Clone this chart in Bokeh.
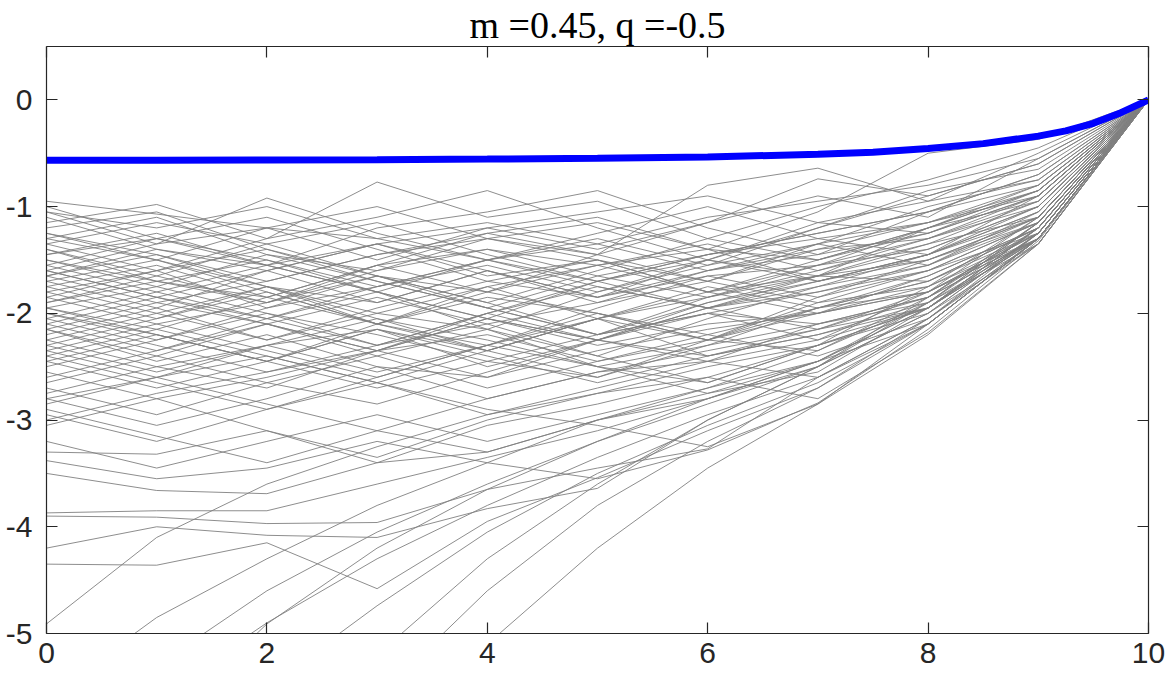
from bokeh.plotting import figure
from bokeh.models import ColumnDataSource, FixedTicker, LinearAxis, Range1d, Title
from bokeh.embed import file_html
from bokeh.resources import INLINE

title_text = "m =0.45, q =-0.5"
steps = [0, 1, 2, 3, 4, 5, 6, 7, 8, 9, 10]
x_ticks = [0, 2, 4, 6, 8, 10]
y_ticks = [-5, -4, -3, -2, -1, 0]

blue_x = [0, 1, 2, 3, 4, 5, 6, 7, 7.5, 8, 8.5, 9, 9.25, 9.5, 9.75, 10]
blue_y = [-0.565, -0.565, -0.563, -0.56, -0.555, -0.547, -0.535, -0.51, -0.49,
          -0.455, -0.41, -0.34, -0.29, -0.22, -0.12, 0.0]

upper_paths = [
    [-0.95, -1.07, -1.2, -1.3, -1.15, -1.35, -1.1, -0.95, -0.8, -0.55, 0],
    [-1.05, -1.35, -0.92, -1.25, -1.5, -1.3, -1.55, -1.2, -0.9, -0.6, 0],
    [-1.15, -0.98, -1.3, -0.77, -1.1, -0.95, -1.3, -1.0, -0.75, -0.45, 0],
    [-1.1, -1.4, -1.55, -1.2, -1.05, -0.85, -1.2, -1.45, -1.05, -0.7, 0],
    [-1.25, -1.5, -1.2, -1.0, -1.3, -1.45, -0.8, -0.64, -0.95, -0.5, 0],
    [-1.3, -1.1, -1.45, -1.6, -1.3, -1.15, -1.4, -1.05, -0.5, -0.37, 0],
    [-1.35, -1.6, -1.3, -1.1, -0.85, -1.2, -1.5, -1.65, -1.2, -0.8, 0],
    [-1.2, -1.05, -1.4, -1.65, -1.8, -1.45, -1.15, -0.74, -0.9, -0.6, 0],
    [-1.4, -1.65, -1.35, -1.15, -1.45, -1.7, -1.5, -1.2, -0.85, -0.65, 0],
    [-1.45, -1.25, -1.55, -1.8, -1.5, -1.25, -1.0, -1.3, -1.45, -0.9, 0],
    [-1.5, -1.7, -1.9, -1.55, -1.25, -1.45, -1.7, -1.35, -1.0, -0.75, 0],
    [-1.55, -1.3, -1.1, -1.4, -1.7, -1.85, -1.5, -1.15, -1.25, -0.85, 0],
    [-1.0, -1.3, -1.55, -1.35, -1.65, -1.5, -1.8, -1.55, -1.2, -0.95, 0],
    [-1.25, -1.45, -1.7, -1.45, -1.25, -1.1, -1.4, -1.7, -1.45, -1.0, 0],
    [-1.05, -1.2, -1.0, -1.3, -1.5, -1.7, -1.45, -1.25, -1.05, -0.7, 0],
    [-1.6, -1.35, -1.2, -1.5, -1.2, -1.4, -1.15, -0.9, -1.1, -0.55, 0],
    [-1.35, -1.15, -1.35, -1.65, -1.9, -1.6, -1.3, -1.5, -1.2, -0.85, 0],
    [-1.65, -1.4, -1.6, -1.35, -1.2, -1.05, -0.9, -1.15, -0.95, -0.75, 0],
    [-1.4, -1.7, -1.85, -1.55, -1.4, -1.65, -1.85, -1.6, -1.35, -0.95, 0],
    [-1.5, -1.75, -1.45, -1.7, -1.95, -1.65, -1.45, -1.25, -1.05, -0.8, 0],
    [-1.3, -1.5, -1.75, -1.9, -1.6, -1.85, -1.6, -1.4, -1.3, -0.9, 0],
    [-1.45, -1.3, -1.5, -1.75, -1.5, -1.35, -1.6, -1.35, -1.15, -0.8, 0],
]

core_paths = [
    [-1.6, -1.85, -2.05, -1.75, -1.5, -1.75, -1.95, -1.65, -1.35, -1.1, 0],
    [-1.65, -1.45, -1.75, -2.0, -2.15, -1.8, -1.55, -1.35, -1.55, -1.05, 0],
    [-1.7, -1.95, -1.6, -1.35, -1.6, -1.9, -1.6, -1.45, -1.25, -0.9, 0],
    [-1.75, -2.0, -2.25, -1.95, -1.7, -1.5, -1.8, -2.0, -1.65, -1.2, 0],
    [-1.85, -1.6, -1.4, -1.7, -1.95, -2.2, -1.85, -1.55, -1.4, -1.0, 0],
    [-1.8, -2.05, -1.75, -2.1, -2.3, -1.95, -1.65, -1.85, -1.6, -1.15, 0],
    [-1.9, -1.65, -1.9, -1.6, -1.4, -1.55, -1.8, -1.5, -1.2, -0.85, 0],
    [-1.95, -2.2, -2.45, -2.1, -1.85, -2.0, -2.25, -1.9, -1.6, -1.25, 0],
    [-1.9, -1.7, -1.5, -1.8, -2.05, -1.7, -1.45, -1.3, -1.15, -0.9, 0],
    [-2.0, -2.25, -1.95, -1.65, -1.9, -2.2, -1.9, -1.65, -1.7, -1.2, 0],
    [-2.05, -1.8, -2.05, -2.3, -2.0, -1.7, -1.95, -2.15, -1.8, -1.3, 0],
    [-2.1, -2.35, -2.05, -1.8, -2.15, -2.4, -2.05, -1.75, -1.45, -1.1, 0],
    [-2.1, -1.85, -1.6, -1.9, -1.6, -1.85, -1.65, -1.55, -1.3, -1.0, 0],
    [-2.15, -2.45, -2.2, -2.5, -2.6, -2.25, -2.45, -2.1, -1.85, -1.3, 0],
    [-2.2, -1.95, -2.25, -2.0, -1.75, -2.05, -1.75, -1.95, -1.65, -1.2, 0],
    [-2.25, -2.5, -2.7, -2.35, -2.05, -2.25, -1.95, -1.8, -1.6, -1.15, 0],
    [-2.3, -2.05, -1.8, -2.1, -2.35, -2.05, -2.25, -1.95, -1.7, -1.25, 0],
    [-2.35, -2.6, -2.3, -2.05, -2.35, -2.6, -2.25, -2.0, -1.75, -1.3, 0],
    [-2.4, -2.15, -2.4, -2.65, -2.35, -2.05, -2.4, -2.2, -1.9, -1.35, 0],
    [-2.45, -2.7, -2.45, -2.15, -2.5, -2.25, -2.0, -2.25, -1.95, -1.3, 0],
    [-2.5, -2.25, -2.0, -2.3, -2.1, -2.4, -2.65, -2.3, -2.0, -1.35, 0],
    [-2.55, -2.8, -2.6, -2.35, -2.6, -2.35, -2.15, -2.0, -1.8, -1.25, 0],
    [-1.55, -1.8, -1.55, -1.8, -2.05, -2.25, -1.9, -1.7, -1.45, -1.05, 0],
    [-1.7, -1.5, -1.8, -2.1, -1.8, -2.0, -2.25, -1.85, -1.5, -1.15, 0],
    [-1.85, -2.1, -2.35, -2.6, -2.3, -2.05, -1.8, -1.65, -1.4, -1.0, 0],
    [-1.95, -1.75, -2.0, -2.2, -2.45, -2.6, -2.3, -1.95, -1.7, -1.2, 0],
    [-2.05, -2.3, -2.55, -2.3, -2.0, -1.75, -1.95, -1.75, -1.55, -1.1, 0],
    [-2.15, -2.4, -2.1, -1.85, -2.1, -1.9, -1.7, -1.9, -1.75, -1.25, 0],
    [-2.3, -2.55, -2.3, -2.55, -2.3, -2.0, -2.2, -1.95, -1.8, -1.3, 0],
    [-2.4, -2.65, -2.9, -2.6, -2.3, -2.5, -2.3, -2.1, -1.9, -1.3, 0],
    [-2.6, -2.35, -2.1, -2.4, -2.7, -2.45, -2.2, -2.4, -2.05, -1.35, 0],
    [-2.65, -2.4, -2.65, -2.4, -2.15, -2.5, -2.75, -2.45, -2.1, -1.3, 0],
    [-2.7, -2.95, -2.65, -2.85, -2.55, -2.25, -2.4, -2.15, -1.95, -1.25, 0],
    [-1.75, -1.55, -1.85, -1.55, -1.8, -1.55, -1.35, -1.6, -1.3, -0.95, 0],
    [-1.6, -1.85, -2.1, -2.35, -2.0, -2.25, -1.95, -1.7, -1.5, -1.1, 0],
    [-2.35, -2.1, -1.9, -1.65, -1.95, -2.2, -2.0, -1.8, -1.55, -1.15, 0],
    [-1.65, -1.9, -1.7, -1.45, -1.3, -1.5, -1.7, -1.4, -1.15, -0.85, 0],
    [-1.8, -1.6, -1.95, -1.75, -1.55, -1.8, -1.5, -1.7, -1.45, -1.05, 0],
    [-1.95, -2.15, -1.85, -2.1, -1.75, -1.55, -1.4, -1.5, -1.25, -0.9, 0],
    [-2.0, -2.2, -2.45, -2.15, -2.35, -2.05, -1.85, -1.65, -1.5, -1.1, 0],
    [-2.15, -1.9, -2.1, -2.35, -2.05, -2.3, -2.1, -2.0, -1.8, -1.25, 0],
    [-2.25, -2.0, -1.75, -2.05, -2.25, -2.5, -2.65, -2.3, -1.95, -1.3, 0],
    [-2.45, -2.2, -2.45, -2.7, -2.45, -2.2, -2.0, -2.1, -1.85, -1.3, 0],
    [-2.75, -2.5, -2.3, -2.15, -2.4, -2.65, -2.4, -2.2, -1.95, -1.3, 0],
]

lower_paths = [
    [-2.8, -3.05, -2.8, -2.5, -2.8, -2.55, -2.35, -2.15, -1.85, -1.2, 0],
    [-2.85, -2.6, -2.85, -3.1, -2.8, -2.55, -2.45, -2.6, -2.1, -1.3, 0],
    [-2.95, -3.2, -2.9, -2.65, -2.95, -2.75, -2.5, -2.3, -1.95, -1.25, 0],
    [-3.05, -2.8, -3.1, -3.35, -3.0, -2.75, -2.6, -2.8, -2.18, -1.35, 0],
    [-3.2, -3.45, -3.2, -2.95, -3.2, -2.95, -2.7, -2.45, -1.9, -1.15, 0],
    [-3.3, -3.32, -3.1, -3.4, -3.3, -3.0, -2.8, -2.5, -2.0, -1.25, 0],
    [-3.38, -3.55, -3.45, -3.2, -3.4, -3.55, -3.28, -2.84, -2.15, -1.32, 0],
    [-3.5, -3.66, -3.69, -3.4, -3.05, -2.85, -2.6, -2.3, -1.75, -1.1, 0],
    [-3.87, -3.85, -3.85, -3.6, -3.35, -3.1, -2.8, -2.45, -1.95, -1.2, 0],
    [-3.9, -3.91, -3.97, -3.96, -3.65, -3.45, -3.27, -2.6, -2.05, -1.3, 0],
    [-4.2, -4.0, -4.08, -4.1, -3.83, -3.64, -3.0, -2.5, -1.85, -1.15, 0],
    [-4.35, -4.36, -4.15, -4.58, -3.95, -3.54, -3.1, -2.7, -2.05, -1.3, 0],
    [-4.91, -4.1, -3.6, -3.25, -2.95, -2.7, -2.45, -2.25, -1.8, -1.1, 0],
    [-2.9, -3.15, -3.4, -3.1, -3.3, -3.0, -2.75, -2.55, -1.95, -1.2, 0],
    [-2.8, -2.6, -2.4, -2.65, -2.9, -3.05, -3.25, -2.85, -2.1, -1.3, 0],
    [-3.0, -2.75, -2.55, -2.35, -2.2, -2.45, -2.25, -2.35, -1.9, -1.2, 0],
]

deep_paths = [
    [-5.6, -4.85, -4.3, -3.8, -3.4, -3.0, -2.7, -2.35, -1.85, -1.15, 0],
    [-6.2, -5.3, -4.6, -4.05, -3.6, -3.2, -2.85, -2.5, -2.0, -1.25, 0],
    [-7.0, -5.9, -4.91, -4.2, -3.65, -3.2, -2.8, -2.45, -1.95, -1.2, 0],
    [-7.8, -6.5, -5.5, -4.74, -4.05, -3.5, -3.05, -2.65, -2.1, -1.3, 0],
    [-8.5, -7.2, -6.1, -5.2, -4.3, -3.6, -3.0, -2.5, -1.9, -1.15, 0],
    [-9.5, -8.0, -6.7, -5.6, -4.6, -3.8, -3.2, -2.7, -2.1, -1.3, 0],
    [-6.5, -5.6, -4.9, -4.3, -3.8, -3.35, -2.95, -2.6, -2.05, -1.25, 0],
    [-10.5, -8.8, -7.3, -6.1, -5.1, -4.2, -3.45, -2.85, -2.2, -1.35, 0],
]

all_paths = upper_paths + core_paths + lower_paths + deep_paths
src = ColumnDataSource(dict(xs=[steps] * len(all_paths), ys=all_paths))

AX = "#262626"
FONT = "Liberation Sans"

p = figure(width=1169, height=684, output_backend="svg", toolbar_location=None,
           x_range=Range1d(0, 10), y_range=Range1d(-5, 0.5),
           x_axis_location=None, y_axis_location=None,
           min_border_left=46, min_border_right=21, min_border_top=46, min_border_bottom=51)
p.title = Title(text=title_text, align="center", text_font="Liberation Serif",
                text_font_size="38px", text_font_style="normal", text_color="black",
                standoff=2, offset=0)
p.grid.visible = False
p.outline_line_color = None
p.background_fill_color = "white"
p.border_fill_color = "white"

p.multi_line(xs="xs", ys="ys", source=src, line_color="#808080", line_width=0.9)
p.line(blue_x, blue_y, line_color="#0000ff", line_width=7)


def make_axis(ticks, show_labels):
    ax = LinearAxis(ticker=FixedTicker(ticks=ticks))
    ax.axis_line_color = AX
    ax.axis_line_width = 1.2
    ax.major_tick_line_color = AX
    ax.major_tick_line_width = 1.2
    ax.major_tick_in = 11
    ax.major_tick_out = 0
    ax.minor_tick_line_color = None
    if show_labels:
        ax.major_label_text_font = FONT
        ax.major_label_text_font_size = "30px"
        ax.major_label_text_color = AX
        ax.major_label_overrides = {t: str(t) for t in ticks}
    else:
        ax.major_label_text_font_size = "1px"
        ax.major_label_text_color = None
        ax.major_label_standoff = 0
    return ax


left = make_axis(y_ticks, True)
left.major_label_standoff = 14
bottom = make_axis(x_ticks, True)
bottom.major_label_standoff = 9
p.add_layout(left, "left")
p.add_layout(bottom, "below")
p.add_layout(make_axis(y_ticks, False), "right")
p.add_layout(make_axis(x_ticks, False), "above")

open("out.html", "w").write(file_html(p, INLINE))
